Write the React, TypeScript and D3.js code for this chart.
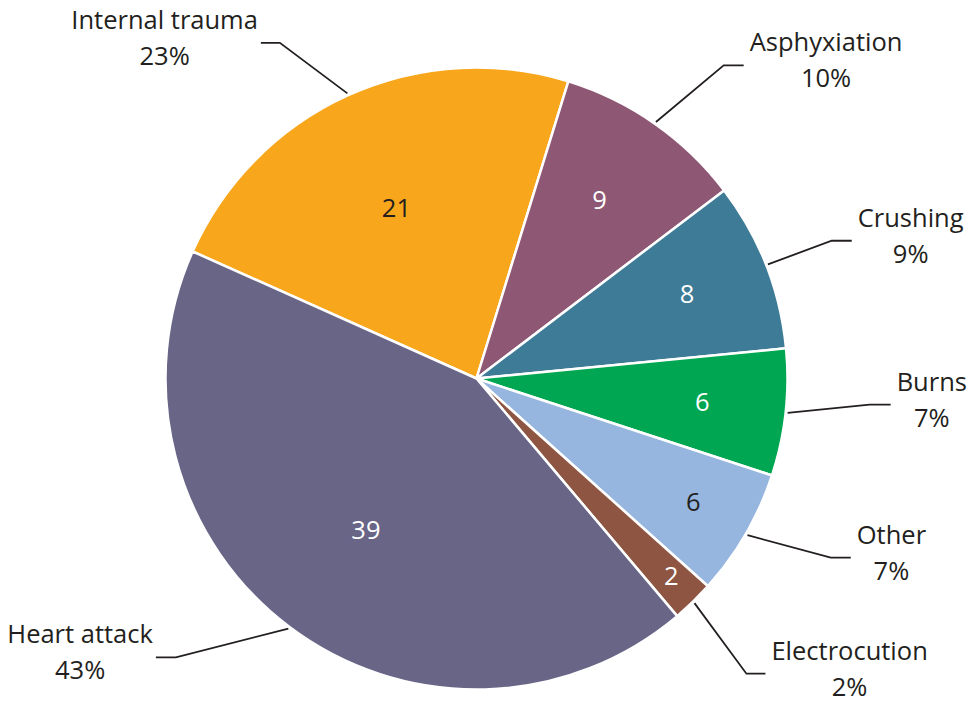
import React, { useEffect, useRef } from "react";
import * as d3 from "d3";

const categories = ["Internal trauma", "Asphyxiation", "Crushing", "Burns", "Other", "Electrocution", "Heart attack"];
const values = [21, 9, 8, 6, 6, 2, 39];
const percentLabels = ["23%", "10%", "9%", "7%", "7%", "2%", "43%"];
const colors = ["#F8A61B", "#8E5874", "#3E7B96", "#00A651", "#96B6E0", "#8E5642", "#686587"];
const valueTextColors = ["#231F20", "#FFFFFF", "#FFFFFF", "#FFFFFF", "#231F20", "#FFFFFF", "#FFFFFF"];

// label layout (placement only)
const innerRadiusFactor = [0.61, 0.70, 0.73, 0.73, 0.80, 0.89, 0.60];
const elbowAngleOffsetDeg = [-6.0, 3.3, 0.2, -2.5, -3.2, 1.7, 10.2];
const elbowRadius = [389, 399, 381, 394, 397, 400, 410];
const horizLen = [19, 20, 20, 21, 20, 19, 20];

const W = 973;
const H = 704;
const CX = 476.5;
const CY = 378.5;
const R = 311;
const START_DEG = -65.9;
const FONT = "'Open Sans', 'Noto Sans', sans-serif";
const FS = 25.5;
const TEXT = "#231F20";

export default function App() {
  const ref = useRef<SVGSVGElement | null>(null);

  useEffect(() => {
    document.body.style.margin = "0";
    const svg = d3.select(ref.current);
    svg.selectAll("*").remove();

    const data = categories.map((c, i) => ({ c, v: values[i], i }));
    const start = (START_DEG * Math.PI) / 180;
    const pie = d3
      .pie<any>()
      .sort(null)
      .value((d: any) => d.v)
      .startAngle(start)
      .endAngle(start + 2 * Math.PI);
    const arcs = pie(data);
    const arc = d3.arc<any>().innerRadius(0).outerRadius(R);

    const g = svg.append("g").attr("transform", `translate(${CX},${CY})`);

    g.selectAll("path.slice")
      .data(arcs)
      .enter()
      .append("path")
      .attr("class", "slice")
      .attr("d", arc as any)
      .attr("fill", (d: any) => colors[d.data.i])
      .attr("stroke", "#FFFFFF")
      .attr("stroke-width", 2.5)
      .attr("stroke-linejoin", "round");

    const pt = (ang: number, rad: number) => [Math.sin(ang) * rad, -Math.cos(ang) * rad];

    // inner value labels
    arcs.forEach((a: any) => {
      const i = a.data.i;
      const mid = (a.startAngle + a.endAngle) / 2 - (0.6 * Math.PI) / 180;
      const [x, y] = pt(mid, R * innerRadiusFactor[i]);
      g.append("text")
        .attr("x", x)
        .attr("y", y)
        .attr("text-anchor", "middle")
        .attr("dominant-baseline", "central")
        .attr("font-family", FONT)
        .attr("font-size", FS)
        .attr("fill", valueTextColors[i])
        .text(String(values[i]));
    });

    // leader lines and outer labels
    arcs.forEach((a: any) => {
      const i = a.data.i;
      const mid = (a.startAngle + a.endAngle) / 2;
      const [sx, sy] = pt(mid, R + 2);
      const eAng = mid + (elbowAngleOffsetDeg[i] * Math.PI) / 180;
      const [ex, ey] = pt(eAng, elbowRadius[i]);
      const right = ex > 0;
      const hx = right ? ex + horizLen[i] : ex - horizLen[i];
      g.append("path")
        .attr("d", d3.line()([[sx, sy], [ex, ey], [hx, ey]]) as string)
        .attr("fill", "none")
        .attr("stroke", TEXT)
        .attr("stroke-width", 1.8);

      const lt = g
        .append("text")
        .attr("text-anchor", "middle")
        .attr("font-family", FONT)
        .attr("font-size", FS)
        .attr("fill", TEXT);
      const t1 = lt.append("tspan").attr("y", ey - 14).text(categories[i]);
      const t2 = lt.append("tspan").attr("y", ey + 22).text(percentLabels[i]);
      const w = Math.max(
        (t1.node() as SVGTextContentElement).getComputedTextLength(),
        (t2.node() as SVGTextContentElement).getComputedTextLength()
      );
      const cx = right ? hx + 6 + w / 2 : hx - 3 - w / 2;
      t1.attr("x", cx);
      t2.attr("x", cx);
    });
  }, []);

  return <svg ref={ref} width={W} height={H} style={{ display: "block", background: "#FFFFFF" }} />;
}
